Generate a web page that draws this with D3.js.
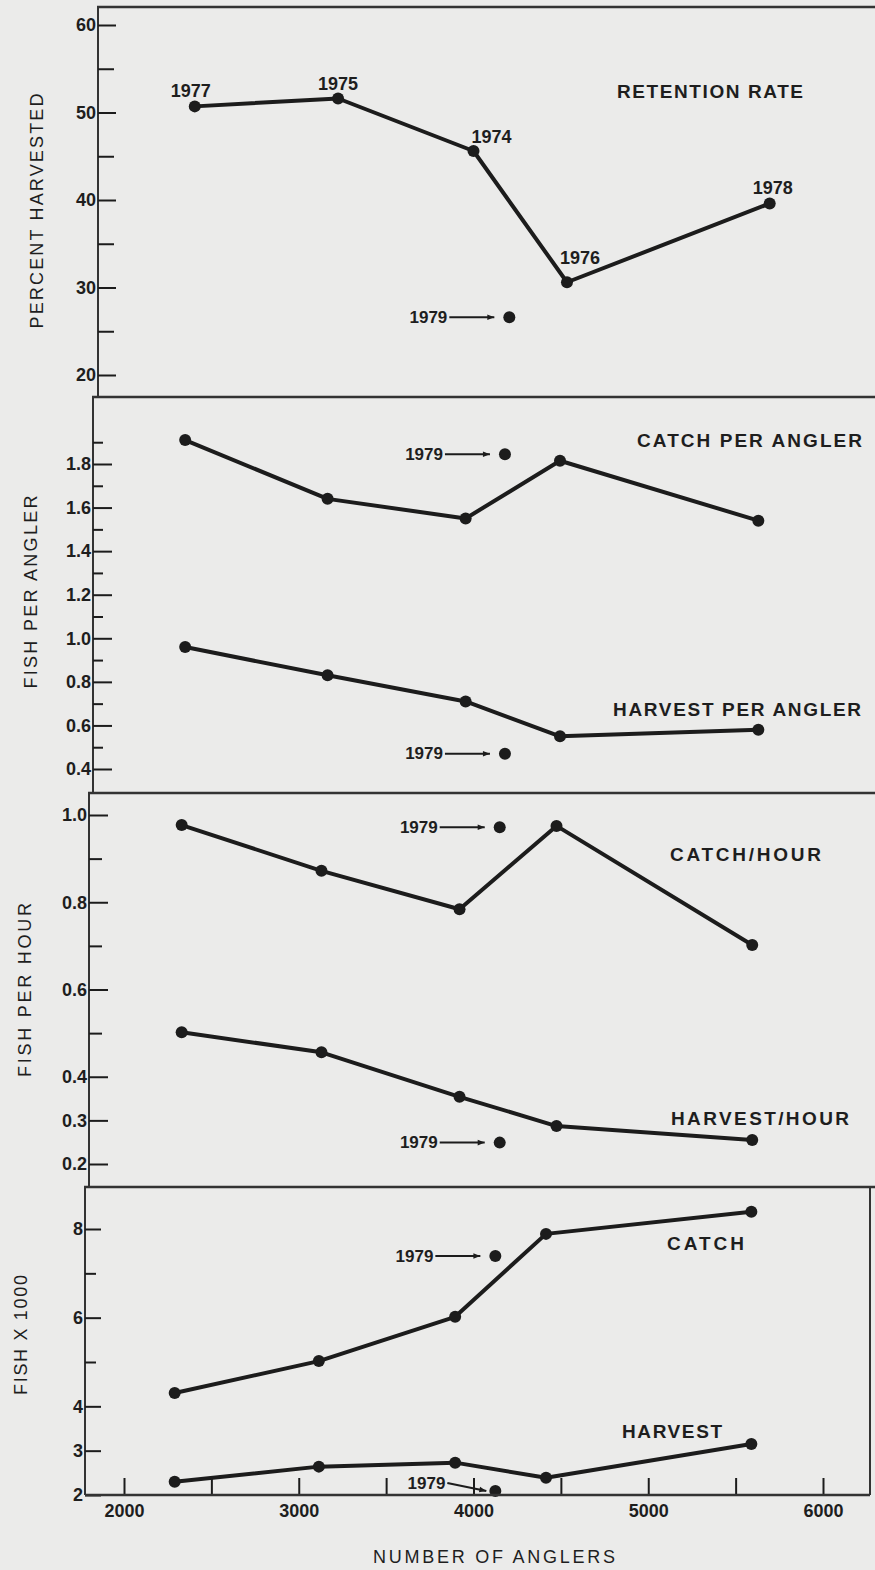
<!DOCTYPE html>
<html>
<head>
<meta charset="utf-8">
<script src="https://cdn.jsdelivr.net/npm/d3@7"></script>
<style>
  body { margin: 0; background: #ebebea; }
  svg { display: block; }
  text { font-family: "Liberation Sans", Arial, sans-serif; fill: #1e1e1e; }
  .tick text { font-size: 18px; font-weight: bold; }
  .yr { font-size: 18px; font-weight: bold; }
  .note { font-size: 17px; font-weight: bold; }
  .lab { font-size: 19px; font-weight: bold; }
  .ttl { font-size: 18px; }
</style>
</head>
<body>
<svg width="875" height="1570"></svg>
<script>
// values (x = number of anglers)
const anglerTicks = d3.range(2000, 6001, 500);
const anglerLabels = [2000, 3000, 4000, 5000, 6000];

// panel 1 - retention rate
const retentionYears = ['1977', '1975', '1974', '1976', '1978'];
const retentionAnglers = [2405, 3225, 4000, 4535, 5695];
const retentionRate = [50.7, 51.6, 45.6, 30.6, 39.6];
const retentionAnglers1979 = 4205;
const retentionRate1979 = 26.6;

// panel 2 - fish per angler
const perAnglerAnglers = [2350, 3165, 3955, 4495, 5630];
const catchPerAngler = [1.91, 1.64, 1.55, 1.815, 1.54];
const harvestPerAngler = [0.96, 0.83, 0.71, 0.55, 0.58];
const perAnglerAnglers1979 = 4180;
const catchPerAngler1979 = 1.845;
const harvestPerAngler1979 = 0.47;

// panel 3 - fish per hour
const perHourAnglers = [2330, 3130, 3920, 4475, 5595];
const catchPerHour = [0.977, 0.872, 0.784, 0.975, 0.702];
const harvestPerHour = [0.502, 0.456, 0.354, 0.287, 0.255];
const perHourAnglers1979 = 4150;
const catchPerHour1979 = 0.972;
const harvestPerHour1979 = 0.249;

// panel 4 - fish x 1000
const totalAnglers = [2290, 3115, 3895, 4415, 5590];
const totalCatch = [4.30, 5.02, 6.02, 7.89, 8.39];
const totalHarvest = [2.30, 2.64, 2.73, 2.39, 3.15];
const totalAnglers1979 = 4125;
const totalCatch1979 = 7.39;
const totalHarvest1979 = 2.09;

const svg = d3.select('svg');
const ink = '#1c1c1c';
const x = d3.scaleLinear().domain([2000, 6000]).range([124, 823]);

const panels = [
  {top: 7, bottom: 397, axisX: 98, domain: [20, 60], range: [375, 25],
   major: d3.range(20, 61, 10), minor: d3.range(25, 56, 10), fmt: d3.format('d'), majorLen: 18, minorLen: 16,
   title: 'PERCENT HARVESTED', tx: 37, ty: 211, tlen: 235,
   anglers: retentionAnglers, anglers1979: retentionAnglers1979,
   series: [{values: retentionRate, v1979: retentionRate1979, label: 'RETENTION RATE', lx: 617, ly: 98, llen: 186, years: true}]},
  {top: 397, bottom: 793, axisX: 93, domain: [0.4, 1.8], range: [769, 464],
   major: d3.range(0.4, 1.81, 0.2), minor: d3.range(0.5, 1.91, 0.2), fmt: d3.format('.1f'), majorLen: 19, minorLen: 10,
   title: 'FISH PER ANGLER', tx: 31, ty: 592, tlen: 193,
   anglers: perAnglerAnglers, anglers1979: perAnglerAnglers1979,
   series: [
     {values: catchPerAngler, v1979: catchPerAngler1979, label: 'CATCH PER ANGLER', lx: 637, ly: 447, llen: 225},
     {values: harvestPerAngler, v1979: harvestPerAngler1979, label: 'HARVEST PER ANGLER', lx: 613, ly: 716, llen: 248}]},
  {top: 793, bottom: 1187, axisX: 89, domain: [0.2, 1.0], range: [1164, 815],
   major: [0.2, 0.3, 0.4, 0.6, 0.8, 1.0], minor: [0.5, 0.7, 0.9], fmt: d3.format('.1f'), majorLen: 19, minorLen: 13,
   title: 'FISH PER HOUR', tx: 25, ty: 990, tlen: 174,
   anglers: perHourAnglers, anglers1979: perHourAnglers1979,
   series: [
     {values: catchPerHour, v1979: catchPerHour1979, label: 'CATCH/HOUR', lx: 670, ly: 861, llen: 151},
     {values: harvestPerHour, v1979: harvestPerHour1979, label: 'HARVEST/HOUR', lx: 671, ly: 1125, llen: 178}]},
  {top: 1187, bottom: 1495, axisX: 85, domain: [2, 8], range: [1495, 1229],
   major: [2, 3, 4, 6, 8], minor: [5, 7], fmt: d3.format('d'), majorLen: 16, minorLen: 11,
   title: 'FISH X 1000', tx: 21, ty: 1335, tlen: 120,
   anglers: totalAnglers, anglers1979: totalAnglers1979,
   series: [
     {values: totalCatch, v1979: totalCatch1979, label: 'CATCH', lx: 667, ly: 1250, llen: 77},
     {values: totalHarvest, v1979: totalHarvest1979, label: 'HARVEST', lx: 622, ly: 1438, llen: 100,
      note: {textDx: -50, textDy: -8, tipDx: -9}}]}
];

// where the year labels sit relative to their points in panel 1
const yearOffsets = [[-24, -9], [-20, -9], [-2, -8], [-7, -18], [-17, -10]];

svg.append('defs').append('marker')
  .attr('id', 'arr').attr('viewBox', '0 0 10 10').attr('refX', 10).attr('refY', 5)
  .attr('markerWidth', 8).attr('markerHeight', 7).attr('markerUnits', 'userSpaceOnUse').attr('orient', 'auto')
  .append('path').attr('d', 'M0,1L10,5L0,9Z').attr('fill', ink);

panels.forEach(p => {
  const y = d3.scaleLinear().domain(p.domain).range(p.range);
  const g = svg.append('g');

  // frame: top rule and left axis line
  g.append('line').attr('x1', p.axisX - 1).attr('x2', 875).attr('y1', p.top).attr('y2', p.top)
    .attr('stroke', '#333').attr('stroke-width', 2.5);
  g.append('line').attr('x1', p.axisX).attr('x2', p.axisX).attr('y1', p.top).attr('y2', p.bottom)
    .attr('stroke', '#333').attr('stroke-width', 2);

  const maj = g.append('g').attr('transform', `translate(${p.axisX},0)`).attr('color', ink)
    .call(d3.axisLeft(y).tickValues(p.major).tickSize(-p.majorLen).tickPadding(2).tickFormat(p.fmt));
  maj.select('.domain').remove();
  maj.selectAll('.tick line').attr('stroke-width', 2);
  const mnr = g.append('g').attr('transform', `translate(${p.axisX},0)`).attr('color', ink)
    .call(d3.axisLeft(y).tickValues(p.minor).tickSize(-p.minorLen).tickFormat(''));
  mnr.select('.domain').remove();
  mnr.selectAll('.tick line').attr('stroke-width', 2);

  g.append('text').attr('class', 'ttl')
    .attr('transform', `translate(${p.tx},${p.ty}) rotate(-90)`)
    .attr('text-anchor', 'middle').attr('dominant-baseline', 'central')
    .attr('textLength', p.tlen).attr('lengthAdjust', 'spacing')
    .text(p.title);

  p.series.forEach(s => {
    const pts = s.values.map((v, i) => [x(p.anglers[i]), y(v)]);
    g.append('path').attr('d', d3.line()(pts))
      .attr('fill', 'none').attr('stroke', ink).attr('stroke-width', 4).attr('stroke-linejoin', 'round');
    g.selectAll(null).data(pts).join('circle')
      .attr('cx', d => d[0]).attr('cy', d => d[1]).attr('r', 6).attr('fill', ink);

    g.append('text').attr('class', 'lab').attr('x', s.lx).attr('y', s.ly)
      .attr('textLength', s.llen).attr('lengthAdjust', 'spacing').text(s.label);

    if (s.years) {
      g.selectAll(null).data(pts).join('text').attr('class', 'yr')
        .attr('x', (d, i) => d[0] + yearOffsets[i][0]).attr('y', (d, i) => d[1] + yearOffsets[i][1])
        .text((d, i) => retentionYears[i]);
    }

    // the 1979 point with its arrow note
    const n = s.note || {textDx: -62, textDy: 0, tipDx: -15};
    const px = x(p.anglers1979), py = y(s.v1979);
    g.append('circle').attr('cx', px).attr('cy', py).attr('r', 6).attr('fill', ink);
    g.append('text').attr('class', 'note').attr('x', px + n.textDx).attr('y', py + n.textDy)
      .attr('text-anchor', 'end').attr('dominant-baseline', 'central').text('1979');
    g.append('line').attr('x1', px + n.textDx + 2).attr('y1', py + n.textDy)
      .attr('x2', px + n.tipDx).attr('y2', py)
      .attr('stroke', ink).attr('stroke-width', 2).attr('marker-end', 'url(#arr)');
  });
});

// bottom x axis, closing the last panel
const last = panels[panels.length - 1];
const xa = svg.append('g').attr('transform', `translate(0,${last.bottom})`).attr('color', ink)
  .call(d3.axisBottom(x).tickValues(anglerTicks).tickSize(-17).tickPadding(9)
    .tickFormat(d => anglerLabels.includes(d) ? d : ''));
xa.select('.domain').remove();
xa.selectAll('.tick line').attr('stroke-width', 2);
svg.append('line').attr('x1', last.axisX).attr('x2', 870).attr('y1', last.bottom).attr('y2', last.bottom)
  .attr('stroke', '#333').attr('stroke-width', 2.5);
svg.append('line').attr('x1', 870).attr('x2', 870).attr('y1', last.top).attr('y2', last.bottom)
  .attr('stroke', '#333').attr('stroke-width', 2);

svg.append('text').attr('class', 'ttl').attr('x', 494).attr('y', 1563)
  .attr('text-anchor', 'middle').attr('textLength', 242).attr('lengthAdjust', 'spacing')
  .text('NUMBER OF ANGLERS');
</script>
</body>
</html>
